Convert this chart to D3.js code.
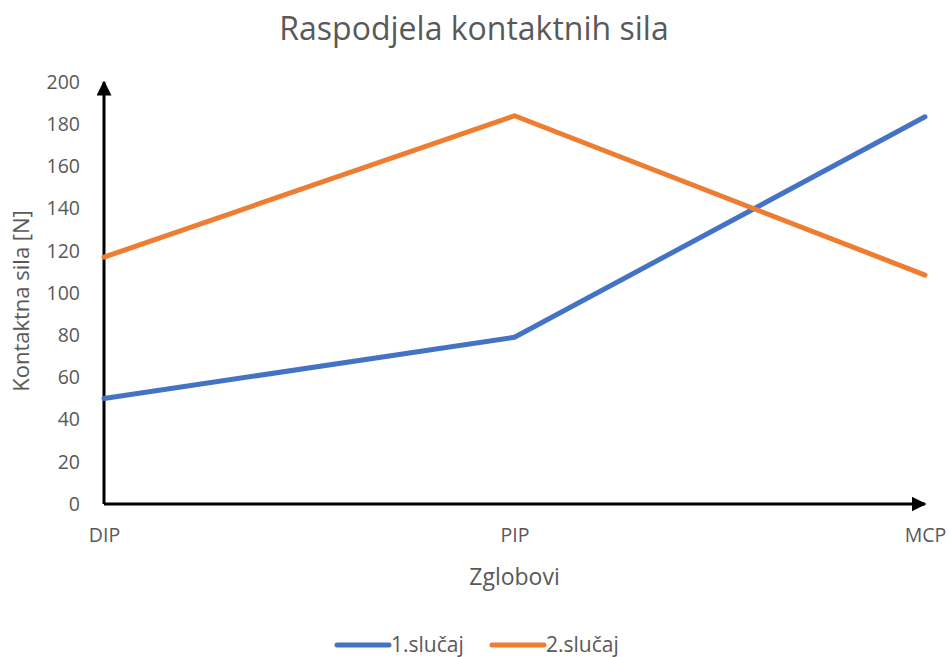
<!DOCTYPE html>
<html>
<head>
<meta charset="utf-8">
<script src="https://cdn.jsdelivr.net/npm/d3@7"></script>
<style>
  body { margin: 0; background: #fff; }
  text { font-family: "Open Sans", "Noto Sans", sans-serif; fill: #595959; }
</style>
</head>
<body>
<div id="chart"></div>
<script>
const categories = ["DIP", "PIP", "MCP"];
const slucaj1 = [50, 79, 183.5];
const slucaj2 = [117, 184, 108.5];
const yTicks = [0, 20, 40, 60, 80, 100, 120, 140, 160, 180, 200];
const seriesNames = ["1.slučaj", "2.slučaj"];
const colours = ["#4472C4", "#ED7D31"];

const W = 951, H = 657;
const margin = { top: 82, right: 26, bottom: 153, left: 104 };
const width = W - margin.left - margin.right,
    height = H - margin.top - margin.bottom;

const svg = d3.select("#chart")
    .append("svg")
        .attr("width", W)
        .attr("height", H);

const g = svg.append("g")
    .attr("transform", `translate(${margin.left},${margin.top})`);

svg.append("text")
    .attr("x", 474)
    .attr("y", 40)
    .attr("text-anchor", "middle")
    .style("font-size", "32px")
    .text("Raspodjela kontaktnih sila");

const x = d3.scalePoint()
    .domain(categories)
    .range([0, width]);

const y = d3.scaleLinear()
    .domain([0, 200])
    .range([height, 0]);

// y tick labels
const yAxis = g.append("g")
    .call(d3.axisLeft(y).tickValues(yTicks).tickSize(0).tickPadding(24));
yAxis.select(".domain").remove();
yAxis.selectAll("text")
    .style("font-size", "19.5px")
    .style("fill", "#595959")
    .style("font-family", "'Open Sans', sans-serif");

// x tick labels
const xAxis = g.append("g")
    .attr("transform", `translate(0,${height})`)
    .call(d3.axisBottom(x).tickSize(0).tickPadding(24));
xAxis.select(".domain").remove();
xAxis.selectAll("text")
    .style("font-size", "19.5px")
    .style("fill", "#595959")
    .style("font-family", "'Open Sans', sans-serif");

// axes with arrows
svg.append("defs").append("marker")
    .attr("id", "arrow")
    .attr("viewBox", "0 0 10 10")
    .attr("refX", 9)
    .attr("refY", 5)
    .attr("markerWidth", 5)
    .attr("markerHeight", 5)
    .attr("markerUnits", "strokeWidth")
    .attr("orient", "auto")
  .append("path")
    .attr("d", "M0,0 L10,5 L0,10 z")
    .attr("fill", "#000");

g.append("line")
    .attr("x1", 0).attr("y1", y(0))
    .attr("x2", 0).attr("y2", y(200))
    .attr("stroke", "#000")
    .attr("stroke-width", 3)
    .attr("marker-end", "url(#arrow)");

g.append("line")
    .attr("x1", 0).attr("y1", y(0))
    .attr("x2", width).attr("y2", y(0))
    .attr("stroke", "#000")
    .attr("stroke-width", 3)
    .attr("marker-end", "url(#arrow)");

const line = d3.line()
    .x((d, i) => x(categories[i]))
    .y(d => y(d));

[slucaj1, slucaj2].forEach((s, i) => {
    g.append("path")
        .datum(s)
        .attr("fill", "none")
        .attr("stroke", colours[i])
        .attr("stroke-width", 5)
        .attr("stroke-linecap", "round")
        .attr("stroke-linejoin", "round")
        .attr("d", line);
});

// axis titles
svg.append("text")
    .attr("x", margin.left + width / 2)
    .attr("y", 585)
    .attr("text-anchor", "middle")
    .style("font-size", "23px")
    .text("Zglobovi");

svg.append("text")
    .attr("transform", `translate(29,${301}) rotate(-90)`)
    .attr("text-anchor", "middle")
    .style("font-size", "22px")
    .text("Kontaktna sila [N]");

// legend
const legend = svg.selectAll(".legend")
    .data(seriesNames)
    .enter().append("g")
    .attr("class", "legend")
    .attr("transform", (d, i) => `translate(${337 + i * 155},645)`);

legend.append("line")
    .attr("x1", 0).attr("x2", 52)
    .attr("y1", 0).attr("y2", 0)
    .attr("stroke", (d, i) => colours[i])
    .attr("stroke-width", 5)
    .attr("stroke-linecap", "round");

legend.append("text")
    .attr("x", 54)
    .attr("y", 0)
    .attr("dy", "0.35em")
    .style("font-size", "21px")
    .text(d => d);
</script>
</body>
</html>
